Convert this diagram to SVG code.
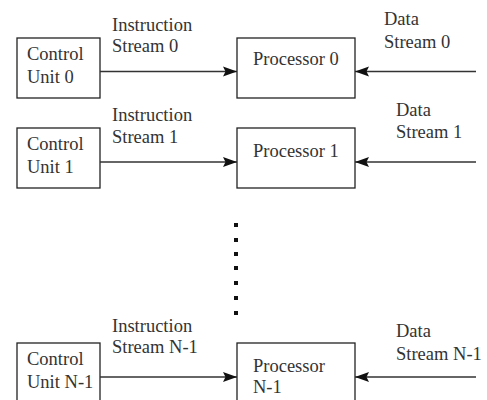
<svg xmlns="http://www.w3.org/2000/svg" width="487" height="400" viewBox="0 0 487 400">
<style>
  .box { fill: #ffffff; stroke: #222222; stroke-width: 1.3; }
  .lbl { font-family: "Liberation Serif", "Times New Roman", serif; font-size: 18.5px; fill: #333333; }
  .conn { stroke: #333333; stroke-width: 1.3; fill: none; marker-end: url(#ah); }
  .dot { fill: #111111; }
</style>
<defs>
  <marker id="ah" markerUnits="userSpaceOnUse" markerWidth="16" markerHeight="12" viewBox="0 -6 16 12" refX="14" refY="0" orient="auto">
    <path d="M0,-5 L14,0 L0,5 L2.5,0 z" fill="#111111"/>
  </marker>
</defs>
<rect width="487" height="400" fill="#ffffff"/>

<g id="cu0">
  <rect class="box" x="17" y="38" width="83" height="60"/>
  <text class="lbl" x="27" y="60">Control</text>
  <text class="lbl" x="27" y="83">Unit 0</text>
</g>
<g id="p0">
  <rect class="box" x="237" y="38" width="118" height="60"/>
  <text class="lbl" x="253" y="65">Processor 0</text>
</g>
<g id="cu1">
  <rect class="box" x="17" y="128" width="83" height="60"/>
  <text class="lbl" x="27" y="150">Control</text>
  <text class="lbl" x="27" y="173">Unit 1</text>
</g>
<g id="p1">
  <rect class="box" x="237" y="128" width="118" height="60"/>
  <text class="lbl" x="253" y="157">Processor 1</text>
</g>
<g id="cuN">
  <rect class="box" x="17" y="343" width="83" height="62"/>
  <text class="lbl" x="27" y="365">Control</text>
  <text class="lbl" x="27" y="388">Unit N-1</text>
</g>
<g id="pN">
  <rect class="box" x="237" y="343" width="118" height="62"/>
  <text class="lbl" x="253" y="372">Processor</text>
  <text class="lbl" x="253" y="393">N-1</text>
</g>

<g id="connectors">
  <line class="conn" x1="100" y1="71.5" x2="237" y2="71.5"/>
  <line class="conn" x1="476" y1="71.5" x2="355" y2="71.5"/>
  <line class="conn" x1="100" y1="162" x2="237" y2="162"/>
  <line class="conn" x1="476" y1="162" x2="355" y2="162"/>
  <line class="conn" x1="100" y1="377" x2="237" y2="377"/>
  <line class="conn" x1="476" y1="377" x2="355" y2="377"/>
</g>

<g id="labels">
  <text class="lbl" x="112" y="31">Instruction</text>
  <text class="lbl" x="112" y="52">Stream 0</text>
  <text class="lbl" x="384" y="25">Data</text>
  <text class="lbl" x="384" y="48">Stream 0</text>
  <text class="lbl" x="112" y="121">Instruction</text>
  <text class="lbl" x="112" y="143">Stream 1</text>
  <text class="lbl" x="396" y="116">Data</text>
  <text class="lbl" x="396" y="138">Stream 1</text>
  <text class="lbl" x="112" y="332">Instruction</text>
  <text class="lbl" x="112" y="353">Stream N-1</text>
  <text class="lbl" x="396" y="337">Data</text>
  <text class="lbl" x="396" y="360">Stream N-1</text>
</g>

<g id="ellipsis">
  <rect class="dot" x="234" y="223" width="4" height="4"/>
  <rect class="dot" x="234" y="238" width="4" height="4"/>
  <rect class="dot" x="234" y="252" width="4" height="4"/>
  <rect class="dot" x="234" y="266" width="4" height="4"/>
  <rect class="dot" x="234" y="281" width="4" height="4"/>
  <rect class="dot" x="234" y="296" width="4" height="4"/>
  <rect class="dot" x="234" y="311" width="4" height="4"/>
</g>
</svg>
